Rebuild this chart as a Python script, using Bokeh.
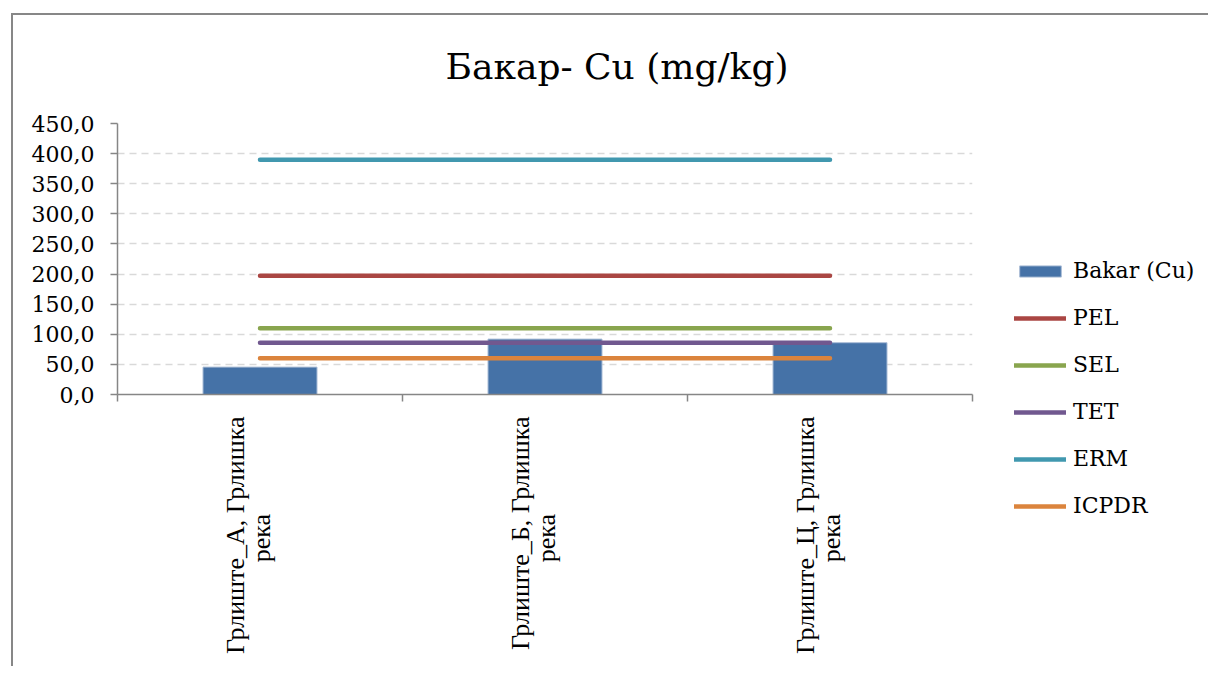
import math
from bokeh.plotting import figure
from bokeh.models import Range1d, FixedTicker, Legend, LegendItem
from bokeh.embed import file_html
from bokeh.resources import INLINE

# ---- data ----
categories = ["Грлиште_А, Грлишка\nрека", "Грлиште_Б, Грлишка\nрека", "Грлиште_Ц, Грлишка\nрека"]
cu = [45.5, 92.0, 86.0]
pel = [197.0, 197.0, 197.0]
sel = [110.0, 110.0, 110.0]
tet = [86.0, 86.0, 86.0]
erm = [390.0, 390.0, 390.0]
icpdr = [60.0, 60.0, 60.0]
y_ticks = [0, 50, 100, 150, 200, 250, 300, 350, 400, 450]
title_text = "Бакар- Cu (mg/kg)"

xs = [i + 0.5 for i in range(len(categories))]
bounds = [i for i in range(len(categories) + 1)]
label_pos = [x - 0.04 for x in xs]

SERIF = "DejaVu Serif"
TIMES = "Liberation Serif"
AXIS_C = "#868686"

p = figure(frame_width=855, frame_height=271, output_backend="svg", toolbar_location=None,
           x_range=Range1d(0, len(categories)), y_range=Range1d(0, 450),
           min_border_left=117, min_border_right=228, min_border_top=123, min_border_bottom=272)
# chart-area frame (left/top edges visible in the reference)
p.styles = {"box-shadow": "inset 11px 13px 0 0 #ffffff, inset 13px 15px 0 0 #878787"}
p.outline_line_color = None
p.background_fill_color = None
p.border_fill_color = None

p.title.text = title_text
p.title.text_font = SERIF
p.title.text_font_size = "36px"
p.title.text_font_style = "normal"
p.title.text_color = "#000000"
p.title.align = "left"
p.title.offset = 328
p.title.standoff = 73

# bars
bar = p.vbar(x=xs, top=cu, width=0.4, fill_color="#4572A7", line_color="#a9bcd6", line_width=1)

series = [("PEL", pel, "#AA4643"), ("SEL", sel, "#89A54E"), ("TET", tet, "#71588F"),
          ("ERM", erm, "#4198AF"), ("ICPDR", icpdr, "#DB843D")]
items = [LegendItem(label="Bakar (Cu)", renderers=[bar])]
for name, vals, col in series:
    r = p.line(x=xs, y=vals, line_color=col, line_width=4.5, line_cap="round")
    items.append(LegendItem(label=name, renderers=[r]))

# y axis
ya = p.yaxis[0]
ya.ticker = FixedTicker(ticks=y_ticks, minor_ticks=[])
ya.major_label_overrides = {t: f"{t:.1f}".replace(".", ",") for t in y_ticks}
ya.major_label_text_font = SERIF
ya.major_label_text_font_size = "22px"
ya.major_label_text_color = "#000000"
ya.major_label_standoff = 16
ya.axis_line_color = AXIS_C
ya.axis_line_width = 1.5
ya.major_tick_line_color = AXIS_C
ya.major_tick_line_width = 1.5
ya.major_tick_out = 7
ya.major_tick_in = 0
ya.minor_tick_line_color = None

# x axis (labels centred on each category, boundary ticks via minor ticks)
pad = "\u00a0" * 15
xa = p.xaxis[0]
xa.ticker = FixedTicker(ticks=label_pos, minor_ticks=bounds)
xa.major_label_overrides = {x: c + pad for x, c in zip(label_pos, categories)}
xa.major_label_orientation = math.pi / 2
xa.major_label_text_font = TIMES
xa.major_label_text_font_size = "26px"
xa.major_label_text_line_height = 0.92
xa.major_label_text_color = "#000000"
xa.major_label_standoff = 15
xa.axis_line_color = AXIS_C
xa.axis_line_width = 1.5
xa.major_tick_line_color = None
xa.major_tick_out = 0
xa.minor_tick_line_color = AXIS_C
xa.minor_tick_line_width = 1.5
xa.minor_tick_out = 7
xa.minor_tick_in = 0

p.xgrid.grid_line_color = None
p.ygrid.ticker = FixedTicker(ticks=y_ticks)
p.ygrid.grid_line_color = "#d9d9d9"
p.ygrid.grid_line_width = 1.5
p.ygrid.grid_line_dash = "7 5"

legend = Legend(items=items, location=(42, -124), glyph_width=52, glyph_height=14,
                label_height=24, spacing=22, padding=0, margin=0, label_standoff=7,
                label_text_font=SERIF, label_text_font_size="22px", label_text_color="#000000",
                border_line_color=None, background_fill_alpha=0)
p.add_layout(legend, "right")

open("out.html", "w").write(file_html(p, INLINE))
